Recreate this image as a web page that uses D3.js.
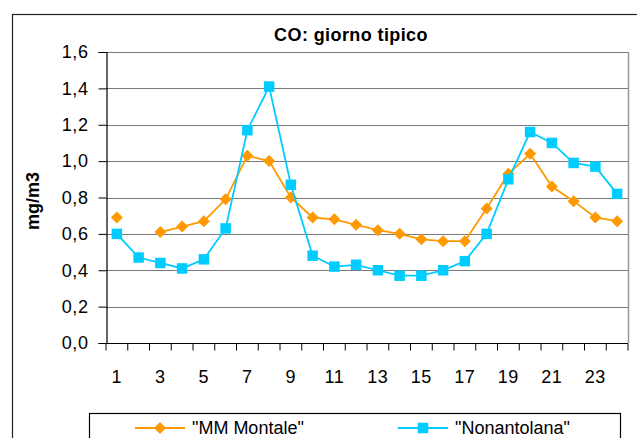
<!DOCTYPE html>
<html>
<head>
<meta charset="utf-8">
<script src="https://cdn.jsdelivr.net/npm/d3@7"></script>
<style>
body { margin: 0; background: #fff; }
text { font-family: "Liberation Sans", Arial, sans-serif; }
</style>
</head>
<body>
<div id="chart"></div>
<script>
// hours of the day
var hours = d3.range(1, 25);
var montale = [0.69, null, 0.61, 0.64, 0.67, 0.79, 1.03, 1.00, 0.80, 0.69, 0.68, 0.65,
	0.62, 0.60, 0.57, 0.56, 0.56, 0.74, 0.93, 1.04, 0.86, 0.78, 0.69, 0.67];
var nonantolana = [0.60, 0.47, 0.44, 0.41, 0.46, 0.63, 1.17, 1.41, 0.87, 0.48, 0.42, 0.43,
	0.40, 0.37, 0.37, 0.40, 0.45, 0.60, 0.90, 1.16, 1.10, 0.99, 0.97, 0.82];
var yTicks = [0, 0.2, 0.4, 0.6, 0.8, 1.0, 1.2, 1.4, 1.6];
var seriesNames = ['"MM Montale"', '"Nonantolana"'];

var W = 637, H = 438;
var plot = {left: 106, right: 628, top: 52, bottom: 343};

var svg = d3.select("#chart").append("svg")
	.attr("width", W)
	.attr("height", H);

// outer chart frame
svg.append("rect")
	.attr("x", 12.5).attr("y", 14.5)
	.attr("width", 640).attr("height", 440)
	.attr("fill", "none").attr("stroke", "#222").attr("stroke-width", 1.2);

var x = d3.scaleBand()
	.domain(hours)
	.range([plot.left, plot.right]);

var y = d3.scaleLinear()
	.domain([0, 1.6])
	.range([plot.bottom, plot.top]);

var fmt = function(d) { return d3.format(".1f")(d).replace(".", ","); };

// gridlines
svg.append("g").selectAll("line")
	.data(yTicks.slice(1))
	.enter().append("line")
	.attr("x1", plot.left).attr("x2", plot.right)
	.attr("y1", d => Math.round(y(d)) + 0.5).attr("y2", d => Math.round(y(d)) + 0.5)
	.attr("stroke", "#7a7a7a").attr("stroke-width", 1.2);

// right border of plot area
svg.append("line")
	.attr("x1", plot.right + 0.5).attr("x2", plot.right + 0.5)
	.attr("y1", plot.top).attr("y2", plot.bottom)
	.attr("stroke", "#999").attr("stroke-width", 1.5);

// y axis
var yAxis = svg.append("g")
	.attr("transform", `translate(${plot.left + 0.5},0)`)
	.call(d3.axisLeft(y).tickValues(yTicks).tickFormat(fmt).tickSize(8).tickPadding(10));
yAxis.select(".domain").attr("stroke", "#000").attr("stroke-width", 1.2);
yAxis.selectAll(".tick line").attr("stroke", "#000");
yAxis.selectAll("text").attr("font-size", 18).attr("fill", "#000")
	.attr("letter-spacing", 0.6)
	.attr("font-family", "Liberation Sans, Arial, sans-serif");

// x axis: ticks at category boundaries, odd labels only
var xAxis = svg.append("g")
	.attr("transform", `translate(0,${plot.bottom + 0.5})`);
xAxis.append("line")
	.attr("x1", plot.left).attr("x2", plot.right)
	.attr("stroke", "#000").attr("stroke-width", 1.2);
xAxis.selectAll(".tk")
	.data(hours.concat([25]))
	.enter().append("line")
	.attr("class", "tk")
	.attr("x1", d => d <= 24 ? x(d) : plot.right)
	.attr("x2", d => d <= 24 ? x(d) : plot.right)
	.attr("y1", 0).attr("y2", 7)
	.attr("stroke", "#000");
xAxis.selectAll("text")
	.data(hours.filter(d => d % 2 == 1))
	.enter().append("text")
	.attr("x", d => x(d) + x.bandwidth() / 2)
	.attr("y", 39)
	.attr("text-anchor", "middle")
	.attr("font-size", 18)
	.attr("letter-spacing", 0.6)
	.text(d => d);

// lines and markers
var cx = d => x(d) + x.bandwidth() / 2;
var line = d3.line()
	.defined(d => d[1] != null)
	.x(d => cx(d[0]))
	.y(d => y(d[1]));

var series = [
	{name: seriesNames[0], values: montale, color: "#FF9900", shape: d3.symbolSquare, size: 72, rot: 45},
	{name: seriesNames[1], values: nonantolana, color: "#00CCFF", shape: d3.symbolSquare, size: 110, rot: 0}
];

series.forEach(function(s) {
	var pts = hours.map((h, i) => [h, s.values[i]]);
	svg.append("path")
		.datum(pts)
		.attr("d", line)
		.attr("fill", "none")
		.attr("stroke", s.color)
		.attr("stroke-width", 1.8);
	svg.append("g").selectAll("path")
		.data(pts.filter(d => d[1] != null))
		.enter().append("path")
		.attr("transform", d => `translate(${cx(d[0])},${y(d[1])}) rotate(${s.rot})`)
		.attr("d", d3.symbol().type(s.shape).size(s.size))
		.attr("fill", s.color);
});

// title
svg.append("text")
	.attr("x", 351).attr("y", 41)
	.attr("text-anchor", "middle")
	.attr("font-size", 18)
	.attr("font-weight", "bold")
	.attr("letter-spacing", 0.4)
	.text("CO: giorno tipico");

// y label
svg.append("text")
	.attr("transform", "translate(39,201) rotate(-90)")
	.attr("text-anchor", "middle")
	.attr("font-size", 18)
	.attr("font-weight", "bold")
	.text("mg/m3");

// legend
var lg = svg.append("g");
lg.append("rect")
	.attr("x", 89.5).attr("y", 413.5)
	.attr("width", 531).attr("height", 40)
	.attr("fill", "#fff").attr("stroke", "#000").attr("stroke-width", 1.2);
var legendX = [135, 398];
series.forEach(function(s, i) {
	var lx = legendX[i];
	lg.append("line")
		.attr("x1", lx).attr("x2", lx + 50)
		.attr("y1", 428).attr("y2", 428)
		.attr("stroke", s.color).attr("stroke-width", 1.8);
	lg.append("path")
		.attr("transform", `translate(${lx + 25},428) rotate(${s.rot})`)
		.attr("d", d3.symbol().type(s.shape).size(s.size))
		.attr("fill", s.color);
	lg.append("text")
		.attr("x", lx + 57).attr("y", 434)
		.attr("font-size", 18)
		.text(s.name);
});
</script>
</body>
</html>
